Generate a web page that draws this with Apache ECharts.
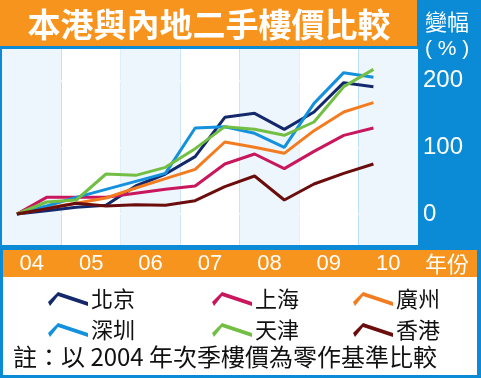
<!DOCTYPE html>
<html><head><meta charset="utf-8">
<script src="https://cdn.jsdelivr.net/npm/echarts@6/dist/echarts.min.js"></script>
<style>html,body{margin:0;padding:0;background:#0b8bd5}#c{width:481px;height:378px}</style>
</head><body><div id="c"></div>
<script>
const periods = ['2004Q2','2004Q4','2005Q2','2005Q4','2006Q2','2006Q4','2007Q2','2007Q4','2008Q2','2008Q4','2009Q2','2009Q4','2010Q2'];
const beijing   = [0, 5, 10, 13, 42, 60, 86, 145, 151, 127, 153, 197, 191];
const shanghai  = [0, 25, 25, 25, 31, 37, 42, 75, 90, 68, 94, 118, 129];
const guangzhou = [0, 9, 16, 24, 39, 53, 67, 108, 100, 91, 125, 153, 167];
const shenzhen  = [0, 12, 25, 37, 49, 61, 129, 131, 121, 100, 166, 212, 205];
const tianjin   = [0, 18, 21, 60, 58, 70, 98, 131, 127, 118, 138, 191, 217];
const hongkong  = [0, 8, 16, 12, 14, 13, 20, 41, 57, 21, 45, 61, 75];
const yearLabels = ['04','05','06','07','08','09','10'];
const yTickLabels = [0, 100, 200];
const seriesNames = ['北京','上海','廣州','深圳','天津','香港'];
const seriesColors = ['#13296b','#c8175d','#f47c20','#1391dc','#72bf44','#6b0d0d'];
const seriesValues = [beijing, shanghai, guangzhou, shenzhen, tianjin, hongkong];

const periodX = periods.map(p => +p.slice(0,4) + (+p.slice(5) - 1) / 4);

const BLUE = '#0b8bd5', ORANGE = '#f7941d';
const CJK = '"Noto Sans CJK TC","Noto Sans CJK SC",sans-serif';
const LAT = '"Liberation Sans",Arial,sans-serif';
const icon = 'path://M0,10 L10,0 L40,10 L40,14 L10,4 L2,14 Z';

const chart = echarts.init(document.getElementById('c'), null, {renderer:'canvas'});
const legendBase = {
  orient:'vertical', top: 283, itemWidth: 40, itemHeight: 14, itemGap: 9, z: 10,
  icon: icon, selectedMode: false,
  textStyle:{color:'#111', fontSize:22, fontFamily:CJK, lineHeight:22, padding:[0,0,0,-2]}
};
chart.setOption({
  animation:false,
  backgroundColor: BLUE,
  grid:{left:2, right:63, top:14, bottom:97.33, containLabel:false},
  xAxis:[
    {type:'category', data:yearLabels, boundaryGap:true, z:0,
     axisLine:{show:false}, axisTick:{show:false}, axisLabel:{show:false},
     splitLine:{show:false},
     splitArea:{show:true, interval:0, areaStyle:{color:['#eef6fd','#ffffff']}}},
    {type:'value', min:2004, max:2011, show:false},
    {type:'category', data:yearLabels, boundaryGap:true, position:'bottom', offset:-16.67, z:10,
     axisLine:{show:false}, axisTick:{show:false}, splitLine:{show:false}, splitArea:{show:false},
     axisLabel:{show:true, interval:0, margin:0, verticalAlign:'middle', color:'#fff', fontSize:22, fontFamily:LAT}}
  ],
  yAxis:[
    {type:'value', min:-100, max:300, interval:100, z:0,
     axisLine:{show:false}, axisTick:{show:false}, axisLabel:{show:false},
     splitLine:{show:true, lineStyle:{color:'#b5d3f1', width:2}}},
    {type:'value', min:-100, max:300, interval:100, position:'right', z:10,
     axisLine:{show:false}, axisTick:{show:false}, splitLine:{show:false},
     axisLabel:{show:true, margin:5, align:'left', color:'#fff', fontSize:24, fontFamily:LAT,
       formatter: v => yTickLabels.indexOf(v) >= 0 ? String(v) : ''}}
  ],
  legend:[
    Object.assign({}, legendBase, {left:43, data:['北京','深圳']}),
    Object.assign({}, legendBase, {left:207, data:['上海','天津']}),
    Object.assign({}, legendBase, {left:348, data:['廣州','香港']})
  ],
  series: seriesNames.map((n, i) => ({
    name:n, type:'line', xAxisIndex:1, yAxisIndex:0,
    symbol:'none', showSymbol:false, color:seriesColors[i],
    lineStyle:{width:3, color:seriesColors[i]},
    data: periodX.map((x, j) => [x, seriesValues[i][j]])
  })),
  graphic:[
    {type:'rect', z:5, shape:{x:0, y:0, width:418, height:49}, style:{fill:BLUE}},
    {type:'rect', z:5, shape:{x:0, y:0, width:417, height:46}, style:{fill:ORANGE}},
    {type:'text', z:6, x:209, y:24, style:{text:'本港與內地二手樓價比較', fill:'#fff', fontSize:33, fontWeight:'bold', fontFamily:CJK, align:'center', verticalAlign:'middle'}},
    {type:'text', z:6, x:425, y:22, style:{text:'變幅', fill:'#fff', fontSize:22, fontFamily:CJK, align:'left', verticalAlign:'middle'}},
    {type:'text', z:6, x:425, y:49, style:{text:'( % )', fill:'#fff', fontSize:21, fontFamily:LAT, align:'left', verticalAlign:'middle'}},
    {type:'rect', z:5, shape:{x:0, y:245, width:481, height:133}, style:{fill:BLUE}},
    {type:'rect', z:5, shape:{x:3, y:250, width:474, height:27}, style:{fill:ORANGE}},
    {type:'rect', z:5, shape:{x:3, y:277, width:474, height:98}, style:{fill:'#ffffff'}},
    {type:'text', z:11, x:425, y:264, style:{text:'年份', fill:'#fff', fontSize:22, fontFamily:CJK, align:'left', verticalAlign:'middle'}},
    {type:'text', z:11, x:13, y:357, style:{text:'註：以 2004 年次季樓價為零作基準比較', fill:'#111', fontSize:24, fontFamily:CJK, align:'left', verticalAlign:'middle'}}
  ]
});
</script></body></html>
